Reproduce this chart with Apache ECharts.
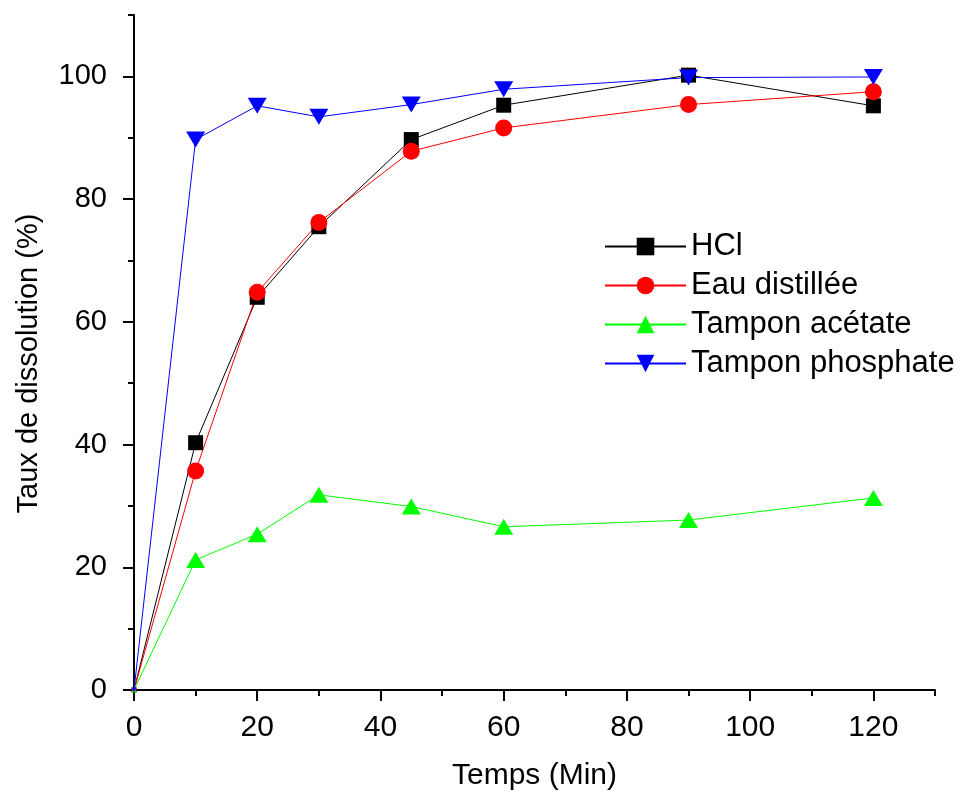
<!DOCTYPE html>
<html>
<head>
<meta charset="utf-8">
<script src="https://cdn.jsdelivr.net/npm/echarts@6/dist/echarts.min.js"></script>
<style>
html,body{margin:0;padding:0;background:#fff;}
#chart{width:967px;height:796px;}
</style>
</head>
<body>
<div id="chart"></div>
<script>
// ---- data ----
var times = [0, 10, 20, 30, 45, 60, 90, 120];
var hcl = [0, 40.3, 64.0, 75.5, 89.7, 95.3, 100.2, 95.2];
var eau = [0, 35.7, 64.8, 76.2, 87.8, 91.6, 95.4, 97.5];
var acetate = [0, 21.2, 25.4, 31.8, 29.9, 26.6, 27.7, 31.3];
var phosphate = [0, 89.7, 95.2, 93.4, 95.4, 97.9, 99.8, 99.9];
var seriesNames = ['HCl', 'Eau distillée', 'Tampon acétate', 'Tampon phosphate'];
var xMajorTicks = [0, 20, 40, 60, 80, 100, 120];
var xMinorTicks = [10, 30, 50, 70, 90, 110, 130];
var yMajorTicks = [0, 20, 40, 60, 80, 100];
var yMinorTicks = [10, 30, 50, 70, 90, 110];
var xTitle = 'Temps (Min)';
var yTitle = 'Taux de dissolution (%)';

function pairs(ys) { return times.map(function (t, i) { return [t, ys[i]]; }); }

var FONT = '"Liberation Sans", Arial, sans-serif';
var chart = echarts.init(document.getElementById('chart'), null, {renderer: 'canvas'});

function sizeFn(base) {
  return function (val, params) { return params.dataIndex === 0 ? [5, 5] : base; };
}

var axisLineStyle = {color: '#000', width: 2};

var option = {
  animation: false,
  backgroundColor: '#fff',
  grid: {left: 134, right: 32, top: 15, bottom: 106, outerBoundsMode: 'none'},
  legend: {
    left: 599, top: 226, orient: 'vertical',
    itemWidth: 81, itemHeight: 22, itemGap: 8,
    textStyle: {fontFamily: FONT, fontSize: 31, color: '#000', lineHeight: 31},
    data: seriesNames
  },
  xAxis: [{
    type: 'value', min: 0, max: 130, position: 'bottom',
    name: xTitle, nameLocation: 'middle', nameGap: 71,
    nameTextStyle: {fontFamily: FONT, fontSize: 30, color: '#000'},
    axisLine: {show: true, lineStyle: axisLineStyle},
    axisTick: {show: true, inside: false, length: 11, lineStyle: axisLineStyle, customValues: xMajorTicks},
    axisLabel: {show: true, margin: 23, fontFamily: FONT, fontSize: 30, color: '#000', customValues: xMajorTicks},
    splitLine: {show: false}
  }, {
    type: 'value', min: 0, max: 130, position: 'bottom', offset: 0,
    axisLine: {show: false},
    axisTick: {show: true, inside: false, length: 6, lineStyle: axisLineStyle, customValues: xMinorTicks},
    axisLabel: {show: false},
    splitLine: {show: false}
  }],
  yAxis: [{
    type: 'value', min: 0, max: 110, position: 'left',
    name: yTitle, nameLocation: 'middle', nameGap: 91,
    nameTextStyle: {fontFamily: FONT, fontSize: 29, color: '#000', padding: [0, 22, 0, 0]},
    axisLine: {show: true, lineStyle: axisLineStyle},
    axisTick: {show: true, inside: false, length: 11, lineStyle: axisLineStyle, customValues: yMajorTicks},
    axisLabel: {show: true, margin: 27, fontFamily: FONT, fontSize: 29, color: '#000', customValues: yMajorTicks},
    splitLine: {show: false}
  }, {
    type: 'value', min: 0, max: 110, position: 'left', offset: 0,
    axisLine: {show: false},
    axisTick: {show: true, inside: false, length: 6, lineStyle: axisLineStyle, customValues: yMinorTicks},
    axisLabel: {show: false},
    splitLine: {show: false}
  }],
  series: [{
    name: seriesNames[0], type: 'line', data: pairs(hcl),
    symbol: 'rect', symbolSize: sizeFn([15, 15]),
    lineStyle: {color: '#000', width: 1}, itemStyle: {color: '#000'}
  }, {
    name: seriesNames[1], type: 'line', data: pairs(eau),
    symbol: 'circle', symbolSize: sizeFn([17, 17]),
    lineStyle: {color: '#ff0000', width: 1}, itemStyle: {color: '#ff0000'}
  }, {
    name: seriesNames[2], type: 'line', data: pairs(acetate),
    symbol: 'triangle', symbolSize: sizeFn([19, 16]),
    lineStyle: {color: '#00ff00', width: 1}, itemStyle: {color: '#00ff00'}
  }, {
    name: seriesNames[3], type: 'line', data: pairs(phosphate),
    symbol: 'triangle', symbolRotate: 180, symbolSize: sizeFn([19, 16]),
    lineStyle: {color: '#0000ff', width: 1}, itemStyle: {color: '#0000ff'}
  }]
};
chart.setOption(option);
</script>
</body>
</html>
